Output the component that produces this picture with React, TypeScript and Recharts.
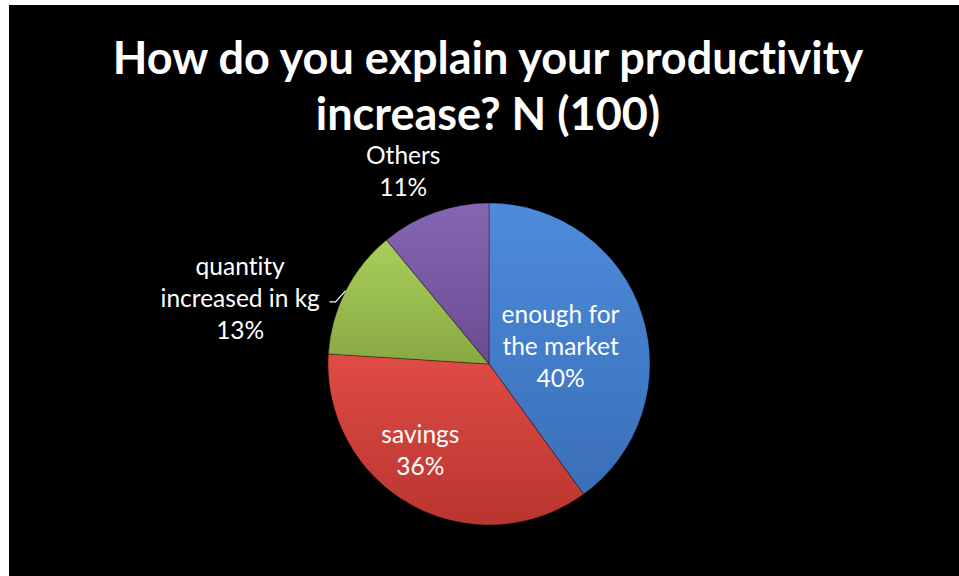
import { Cell, Pie, PieChart } from "recharts";

const categories = ["enough for the market", "savings", "quantity increased in kg", "Others"];
const shares = [40, 36, 13, 11];
const labelText = [["enough for", "the market"], ["savings"], ["quantity", "increased in kg"], ["Others"]];
const topColors = ["#4d8bdb", "#e04b45", "#a9cf5a", "#8566b2"];
const bottomColors = ["#3a6fb8", "#b9352f", "#87a843", "#6a4b93"];

// where each label sits, relative to the slice (radius factor, degrees shifted from mid angle)
const labelPlace = [
  { r: 0.46, shift: -3 },
  { r: 0.68, shift: -10 },
  { r: 1.6, shift: 12 },
  { r: 1.32, shift: 4 },
];

const data = categories.map((name, i) => ({ name, value: shares[i] }));

const RADIAN = Math.PI / 180;
const FONT = "Lato, 'Open Sans', sans-serif";

function renderLabel(props: any) {
  const { cx, cy, midAngle, outerRadius, index } = props;
  const place = labelPlace[index];
  const a = (midAngle + place.shift) * RADIAN;
  const x = cx + outerRadius * place.r * Math.cos(a);
  const y = cy - outerRadius * place.r * Math.sin(a);
  const lines = [...labelText[index], `${shares[index]}%`];
  const lh = 32;
  const top = y - ((lines.length - 1) * lh) / 2;

  let leader = null;
  if (index === 2) {
    const m = midAngle * RADIAN;
    const ex = cx + outerRadius * Math.cos(m);
    const ey = cy - outerRadius * Math.sin(m);
    leader = (
      <polyline
        points={`${ex},${ey} ${ex - 10},${ey + 11} ${ex - 16},${ey + 11}`}
        fill="none"
        stroke="#ffffff"
        strokeWidth={1.2}
      />
    );
  }

  return (
    <g>
      {leader}
      <text
        x={x}
        y={top}
        fill="#ffffff"
        textAnchor="middle"
        dominantBaseline="central"
        fontFamily={FONT}
        fontSize={24.5}
        style={{ fontVariantLigatures: "none" }}
      >
        {lines.map((l, i) => (
          <tspan key={i} x={x} y={top + i * lh}>
            {l}
          </tspan>
        ))}
      </text>
    </g>
  );
}

export default function App() {
  return (
    <div
      style={{
        position: "absolute",
        left: 9,
        top: 5,
        width: 950,
        height: 571,
        background: "#000000",
      }}
    >
      <div
        style={{
          position: "absolute",
          left: 0,
          top: 24,
          width: 958,
          textAlign: "center",
          color: "#ffffff",
          fontFamily: FONT,
          fontWeight: 700,
          fontSize: 45,
          lineHeight: "56px",
          fontVariantLigatures: "none",
        }}
      >
        How do you explain your productivity
        <br />
        increase? N (100)
      </div>
      <PieChart width={950} height={571} style={{ position: "absolute", left: 0, top: 0 }}>
        <defs>
          {topColors.map((c, i) => (
            <linearGradient key={i} id={`grad${i}`} x1="0" y1="0" x2="0" y2="1">
              <stop offset="0%" stopColor={c} />
              <stop offset="100%" stopColor={bottomColors[i]} />
            </linearGradient>
          ))}
        </defs>
        <Pie
          data={data}
          dataKey="value"
          nameKey="name"
          cx={475}
          cy={354}
          outerRadius={161}
          startAngle={90}
          endAngle={-270}
          stroke="rgba(0,0,0,0.35)"
          strokeWidth={1}
          label={renderLabel}
          labelLine={false}
          isAnimationActive={false}
        >
          {data.map((d, i) => (
            <Cell key={d.name} fill={`url(#grad${i})`} />
          ))}
        </Pie>
      </PieChart>
    </div>
  );
}
